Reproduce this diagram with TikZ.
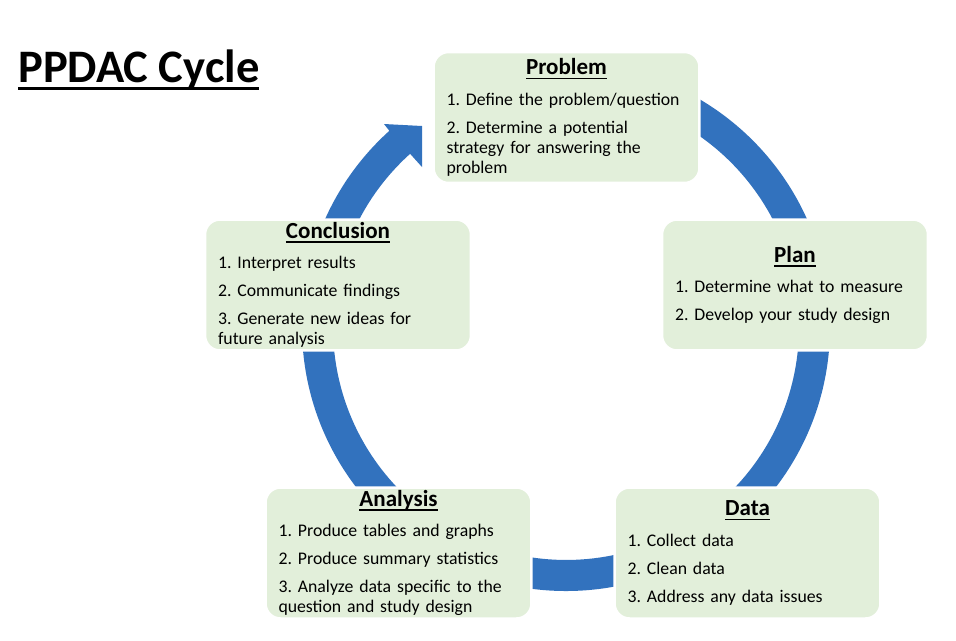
\documentclass[tikz,border=0pt]{standalone}
\usepackage{fontspec}
\setmainfont{Carlito}
\usepackage{xcolor}
\definecolor{ringblue}{RGB}{50,114,190}
\definecolor{stagegreen}{RGB}{226,239,218}
\frenchspacing
% text with a rule under it: text, depth of the rule, thickness
\newcommand{\ruledtext}[3]{\setbox0\hbox{#1}\rlap{\rule[-#2]{\wd0}{#3}}\box0}
\newcommand{\stagehead}[1]{\makebox[\linewidth]{\fontsize{13.1}{15}\selectfont\bfseries\ruledtext{#1}{2.4pt}{0.8pt}}}

\begin{document}
\begin{tikzpicture}[x=0.02cm, y=-0.02cm,
        stage/.style={fill=stagegreen, draw=white, line width=0.05cm, rounded corners=0.3cm,
            minimum width=5.32cm, minimum height=2.62cm, text width=4.8cm, align=left,
            inner sep=0pt, font=\fontsize{10.1}{11.4}\selectfont}]
            \useasboundingbox (0,0) rectangle (956,640);
            % cycle ring with its head
            \fill[ringblue] (566,63) arc[start angle=-90, end angle=228, radius=264]
                -- (384,124) -- (422,126) -- (422,167) -- (410.1,153.8)
                arc[start angle=228, end angle=-90, radius=233] -- cycle;
            % stages
            \node[stage] (problem) at (566.5,117.5) {\stagehead{Problem}\\[6pt]
                1. Define the problem/question\\[4.5pt]
                2. Determine a potential\\ strategy for answering the\\ problem};
            \node[stage] (plan) at (795,285) {\stagehead{Plan}\\[6pt]
                1. Determine what to measure\\[4.5pt]
                2. Develop your study design};
            \node[stage] (data) at (747.5,553) {\stagehead{Data}\\[6pt]
                1. Collect data\\[4.5pt]
                2. Clean data\\[4.5pt]
                3. Address any data issues};
            \node[stage] (analysis) at (398.5,553) {\stagehead{Analysis}\\[6pt]
                1. Produce tables and graphs\\[4.5pt]
                2. Produce summary statistics\\[4.5pt]
                3. Analyze data specific to the\\ question and study design};
            \node[stage] (conclusion) at (338,285) {\stagehead{Conclusion}\\[6pt]
                1. Interpret results\\[4.5pt]
                2. Communicate findings\\[4.5pt]
                3. Generate new ideas for\\ future analysis};
            % title
            \node[anchor=base west, inner sep=0pt, font=\fontsize{26.5}{30}\selectfont\bfseries] (title) at (18,82)
                {\ruledtext{PPDAC Cycle}{4.5pt}{1.8pt}};
        \end{tikzpicture}
\end{document}
